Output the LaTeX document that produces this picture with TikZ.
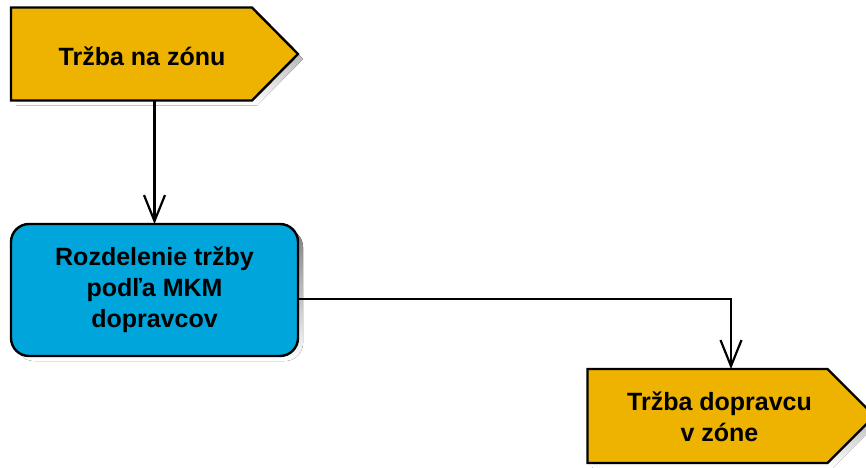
\documentclass[tikz,border=0pt]{standalone}
\usepackage{fontspec}
\setmainfont{Liberation Sans}
\usetikzlibrary{arrows.meta}
\definecolor{gold}{RGB}{237,179,0}
\definecolor{skyblue}{RGB}{0,166,219}
\definecolor{shade}{RGB}{160,162,135}
\tikzset{
  frame/.style={minimum width=287pt, inner sep=0pt, outer sep=0pt},
  lbl/.style={font=\bfseries\fontsize{25}{31}\selectfont, align=center, inner sep=0pt},
  outline/.style={draw=black, line width=2.4pt, line join=miter},
  conn/.style={draw=black, line width=2.2pt, -{Straight Barb[length=26pt,width=21pt]}},
  shadowed/.style={transform canvas={xshift=5pt,yshift=-5pt}}
}
\begin{document}
\begin{tikzpicture}[x=1pt,y=-1pt]
\useasboundingbox (0,0) rectangle (866,467);
% frames
\node[frame, minimum height=93pt] (t1) at (154.5,54) {};
\node[frame, minimum height=132pt] (b) at (154.5,290) {};
\node[frame, minimum height=94pt] (t3) at (731,416) {};
% shadows
\fill[shade, shadowed] (t1.north west) -- ([xshift=-46pt]t1.north east) -- (t1.east) -- ([xshift=-46pt]t1.south east) -- (t1.south west) -- cycle;
\fill[shade, shadowed, rounded corners=18pt] (b.north west) rectangle (b.south east);
\fill[shade, shadowed] (t3.north west) -- ([xshift=-47pt]t3.north east) -- (t3.east) -- ([xshift=-47pt]t3.south east) -- (t3.south west) -- cycle;
% shapes
\path[outline, fill=gold] (t1.north west) -- ([xshift=-46pt]t1.north east) -- (t1.east) -- ([xshift=-46pt]t1.south east) -- (t1.south west) -- cycle;
\path[outline, fill=skyblue, rounded corners=18pt] (b.north west) rectangle (b.south east);
\path[outline, fill=gold] (t3.north west) -- ([xshift=-47pt]t3.north east) -- (t3.east) -- ([xshift=-47pt]t3.south east) -- (t3.south west) -- cycle;
% labels
\node[lbl] (t1l) at (142,56) {Tržba na zónu};
\node[lbl] (bl) at (154.5,290) {Rozdelenie tržby\\podľa MKM\\dopravcov};
\node[lbl] (t3l) at (719.5,417) {Tržba dopravcu\\v zóne};
% connectors
\coordinate (bout) at ([yshift=-9pt]b.east);
\draw[conn] (t1.south) -- (b.north);
\draw[conn] (bout) -| (t3.north);
\end{tikzpicture}
\end{document}
